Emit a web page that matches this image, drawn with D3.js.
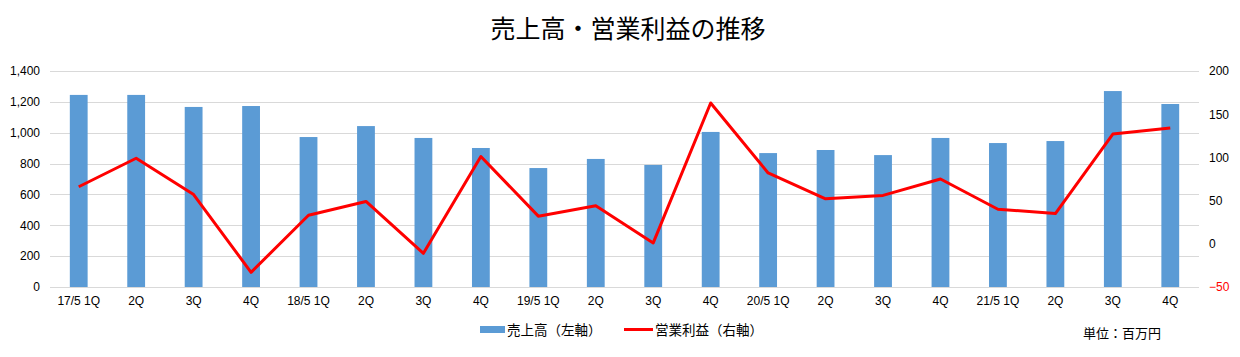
<!DOCTYPE html>
<html><head><meta charset="utf-8">
<script src="https://cdn.jsdelivr.net/npm/d3@7"></script>
<style>
html,body{margin:0;padding:0;background:#fff;}
svg{display:block;font-family:"Noto Sans CJK JP","Noto Sans",sans-serif;}
</style></head>
<body>
<svg id="c" width="1240" height="357"></svg>
<script>
const categories = ["17/5 1Q","2Q","3Q","4Q","18/5 1Q","2Q","3Q","4Q","19/5 1Q","2Q","3Q","4Q","20/5 1Q","2Q","3Q","4Q","21/5 1Q","2Q","3Q","4Q"];
const sales = [1245,1245,1167,1173,972,1043,966,901,771,830,791,1005,868,888,855,966,933,946,1270,1186];
const profit = [66,99,57,-33,33,49,-11,101,32,44,1,163,82,52,56,75,40,35,127,134];
const leftTicks = [0,200,400,600,800,1000,1200,1400];
const rightTicks = [-50,0,50,100,150,200];
const title = "売上高・営業利益の推移";
const legendSales = "売上高（左軸）";
const legendProfit = "営業利益（右軸）";
const unitLabel = "単位：百万円";

const svg = d3.select("#c");
const L = 50, R = 1199, T = 71, B = 287;

const x = d3.scaleBand().domain(d3.range(categories.length)).range([L, R]).paddingInner(0.69).paddingOuter(0.345);
const yL = d3.scaleLinear().domain([0,1400]).range([B, T]);
const yR = d3.scaleLinear().domain([-50,200]).range([B, T]);
const xc = i => x(i) + x.bandwidth()/2;

// gridlines
svg.append("g").selectAll("line").data(leftTicks).join("line")
  .attr("x1", L).attr("x2", R)
  .attr("y1", d => Math.round(yL(d))+0.5).attr("y2", d => Math.round(yL(d))+0.5)
  .attr("stroke", "#d9d9d9").attr("stroke-width", 1);

// bars
svg.append("g").selectAll("rect").data(sales).join("rect")
  .attr("x", (d,i) => x(i)).attr("width", x.bandwidth())
  .attr("y", d => yL(d)).attr("height", d => yL(0) - yL(d))
  .attr("fill", "#5b9bd5");

// line
svg.append("path").datum(profit)
  .attr("d", d3.line().x((d,i) => xc(i)).y(d => yR(d)))
  .attr("fill", "none").attr("stroke", "#ff0000").attr("stroke-width", 3)
  .attr("stroke-linejoin", "round");

// left axis labels
const axL = d3.axisLeft(yL).tickValues(leftTicks).tickSize(0).tickPadding(0).tickFormat(d3.format(","));
const gL = svg.append("g").attr("transform", `translate(${L-10},0)`).call(axL);
gL.select(".domain").remove();
gL.selectAll("text").attr("font-size", 12).attr("fill", "#000").attr("font-family", "inherit");

// right axis labels
const axR = d3.axisRight(yR).tickValues(rightTicks).tickSize(0).tickPadding(0).tickFormat(d => d < 0 ? "\u2212" + Math.abs(d) : d);
const gR = svg.append("g").attr("transform", `translate(${R+10},0)`).call(axR);
gR.select(".domain").remove();
gR.selectAll("text").attr("font-size", 12).attr("font-family", "inherit")
  .attr("fill", d => d < 0 ? "#ff0000" : "#000");

// x labels
const axX = d3.axisBottom(x).tickSize(0).tickPadding(0).tickFormat(i => categories[i]);
const gX = svg.append("g").attr("transform", `translate(0,${B+9})`).call(axX);
gX.select(".domain").remove();
gX.selectAll("text").attr("font-size", 12).attr("fill", "#000").attr("font-family", "inherit");

// title
svg.append("text").attr("x", 628).attr("y", 38).attr("text-anchor", "middle")
  .attr("font-size", 25).attr("fill", "#000").text(title);

// legend
svg.append("rect").attr("x", 480).attr("y", 326).attr("width", 25).attr("height", 7).attr("fill", "#5b9bd5");
svg.append("text").attr("x", 507).attr("y", 335).attr("font-size", 13.5).attr("fill", "#000").text(legendSales);
svg.append("line").attr("x1", 624).attr("x2", 653).attr("y1", 329.5).attr("y2", 329.5).attr("stroke", "#ff0000").attr("stroke-width", 3);
svg.append("text").attr("x", 655).attr("y", 335).attr("font-size", 13.5).attr("fill", "#000").text(legendProfit);

svg.append("text").attr("x", 1083).attr("y", 338).attr("font-size", 13).attr("fill", "#000").text(unitLabel);
</script>
</body></html>
